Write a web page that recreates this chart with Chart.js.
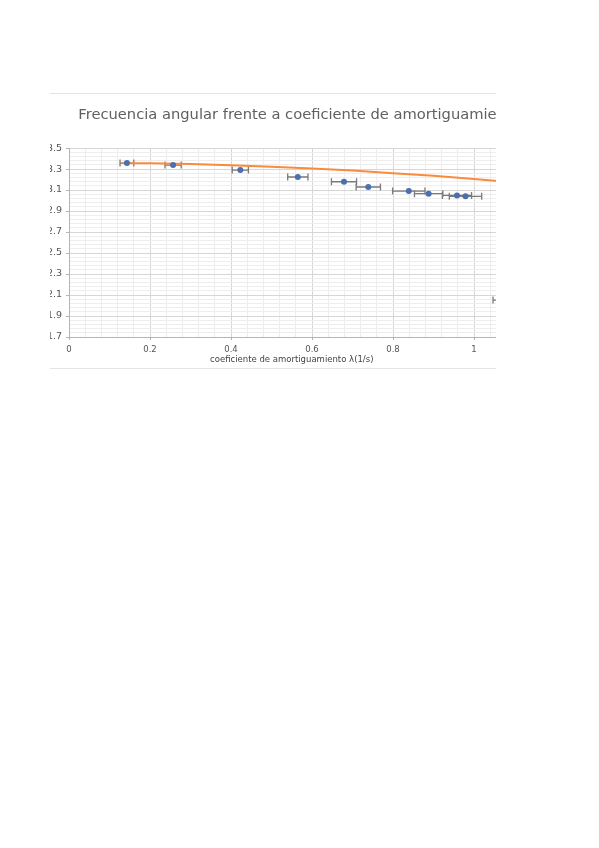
<!DOCTYPE html>
<html>
<head>
<meta charset="utf-8">
<script src="https://cdn.jsdelivr.net/npm/chart.js@4.4.1/dist/chart.umd.min.js"></script>
<style>
  html, body { margin: 0; padding: 0; background: #ffffff; }
  body { width: 599px; height: 848px; position: relative; overflow: hidden; }
  #clip {
    position: absolute; left: 50px; top: 93px; width: 446px; height: 276px;
    overflow: hidden; box-sizing: border-box;
    border-top: 1px solid #e4e4e4; border-bottom: 1px solid #e4e4e4;
  }
  #c { position: absolute; left: -50px; top: -94px; }
</style>
</head>
<body>
<div id="clip"><canvas id="c" width="599" height="380"></canvas></div>
<script>
// ---- data ----
const chartTitle = 'Frecuencia angular frente a coeficiente de amortiguamiento';
const xAxisTitle = 'coeficiente de amortiguamiento \u03bb(1/s)';

// measured points: damping coefficient (1/s), angular frequency (rad/s), horizontal error
const lambdaMeas = [0.143, 0.257, 0.423, 0.565, 0.679, 0.739, 0.839, 0.888, 0.958, 0.979, 1.087];
const omegaMeas  = [3.357, 3.338, 3.290, 3.224, 3.179, 3.129, 3.090, 3.065, 3.049, 3.040, 2.052];
const lambdaErr  = [0.017, 0.020, 0.020, 0.025, 0.031, 0.030, 0.040, 0.035, 0.036, 0.040, 0.040];

// theoretical curve
const lambdaCurve = [0.13, 0.20, 0.30, 0.40, 0.50, 0.60, 0.70, 0.80, 0.90, 1.00, 1.10];
const omegaCurve  = [3.357, 3.354, 3.347, 3.336, 3.322, 3.305, 3.285, 3.261, 3.235, 3.205, 3.173];

const xTickLabels = ['0', '0.2', '0.4', '0.6', '0.8', '1'];
const yTickLabels = ['1.7', '1.9', '2.1', '2.3', '2.5', '2.7', '2.9', '3.1', '3.3', '3.5'];

const xMin = 0, xMax = 1.1, yMin = 1.7, yMax = 3.5, majorStep = 0.2, minorStep = 0.04;

const isMajor = (v, base) => {
  const q = (v - base) / majorStep;
  return Math.abs(q - Math.round(q)) < 1e-6;
};

const majorGrid = '#d6d6d6', minorGrid = '#eeeeee';

const errorBars = {
  id: 'errorBars',
  beforeDatasetsDraw(chart) {
    const { ctx, chartArea, scales } = chart;
    const xs = scales.x, ys = scales.y;
    ctx.save();
    ctx.beginPath();
    ctx.rect(chartArea.left, chartArea.top, chartArea.right - chartArea.left, chartArea.bottom - chartArea.top);
    ctx.clip();
    ctx.strokeStyle = '#7a7a7a';
    ctx.lineWidth = 1.3;
    for (let i = 0; i < lambdaMeas.length; i++) {
      const x0 = xs.getPixelForValue(lambdaMeas[i] - lambdaErr[i]);
      const x1 = xs.getPixelForValue(lambdaMeas[i] + lambdaErr[i]);
      const y = ys.getPixelForValue(omegaMeas[i]);
      ctx.beginPath();
      ctx.moveTo(x0, y); ctx.lineTo(x1, y);
      ctx.moveTo(x0, y - 3.5); ctx.lineTo(x0, y + 3.5);
      ctx.moveTo(x1, y - 3.5); ctx.lineTo(x1, y + 3.5);
      ctx.stroke();
    }
    ctx.restore();
  }
};

new Chart(document.getElementById('c'), {
  type: 'scatter',
  data: {
    datasets: [
      {
        label: 'medidas',
        data: lambdaMeas.map((x, i) => ({ x, y: omegaMeas[i] })),
        backgroundColor: '#4a6fb2',
        borderColor: '#4a6fb2',
        pointRadius: 3,
        pointBorderWidth: 0,
        showLine: false
      },
      {
        label: 'teoria',
        data: lambdaCurve.map((x, i) => ({ x, y: omegaCurve[i] })),
        borderColor: '#f98b3c',
        backgroundColor: '#f98b3c',
        borderWidth: 2,
        pointRadius: 0,
        showLine: true,
        cubicInterpolationMode: 'monotone'
      }
    ]
  },
  options: {
    responsive: false,
    animation: false,
    devicePixelRatio: 1,
    layout: { padding: 0 },
    plugins: {
      legend: { display: false },
      tooltip: { enabled: false },
      title: {
        display: true,
        text: chartTitle,
        color: '#606060',
        font: { family: 'DejaVu Sans', size: 14.7, weight: 'normal', lineHeight: 1.2 },
        padding: { top: 106.6, bottom: 23.8 }
      }
    },
    scales: {
      x: {
        type: 'linear',
        min: xMin, max: xMax,
        afterFit(s) { s.height = 43; },
        border: { display: true, color: '#b5b5b5', width: 1 },
        grid: {
          color: c => isMajor(c.tick.value, xMin) ? majorGrid : minorGrid,
          tickColor: c => isMajor(c.tick.value, xMin) ? '#b5b5b5' : 'rgba(0,0,0,0)',
          tickLength: 3,
          lineWidth: 1
        },
        ticks: {
          stepSize: minorStep,
          autoSkip: false,
          maxRotation: 0,
          padding: 5,
          color: '#555555',
          font: { family: 'DejaVu Sans', size: 8.5 },
          callback: v => {
            if (!isMajor(v, xMin)) return '';
            const idx = Math.round((v - xMin) / majorStep);
            return idx < xTickLabels.length ? xTickLabels[idx] : '';
          }
        },
        title: {
          display: true,
          text: xAxisTitle,
          color: '#444444',
          font: { family: 'DejaVu Sans', size: 8.5, lineHeight: 1.2 },
          padding: { top: 0, bottom: 15.5 }
        }
      },
      y: {
        type: 'linear',
        min: yMin, max: yMax,
        afterFit(s) { s.width = 69; },
        border: { display: true, color: '#b5b5b5', width: 1 },
        grid: {
          color: c => isMajor(c.tick.value, yMin) ? majorGrid : minorGrid,
          tickColor: c => isMajor(c.tick.value, yMin) ? '#b5b5b5' : 'rgba(0,0,0,0)',
          tickLength: 3,
          lineWidth: 1
        },
        ticks: {
          stepSize: minorStep,
          autoSkip: false,
          padding: 4,
          color: '#555555',
          font: { family: 'DejaVu Sans', size: 9.5 },
          callback: v => {
            if (!isMajor(v, yMin)) return '';
            const idx = Math.round((v - yMin) / majorStep);
            return yTickLabels[idx] || '';
          }
        }
      },
      yR: {
        type: 'linear',
        position: 'right',
        display: true,
        afterFit(s) { s.width = 84.5; },
        border: { display: false },
        grid: { display: false, drawTicks: false },
        ticks: { display: false }
      }
    }
  },
  plugins: [errorBars]
});
</script>
</body>
</html>
